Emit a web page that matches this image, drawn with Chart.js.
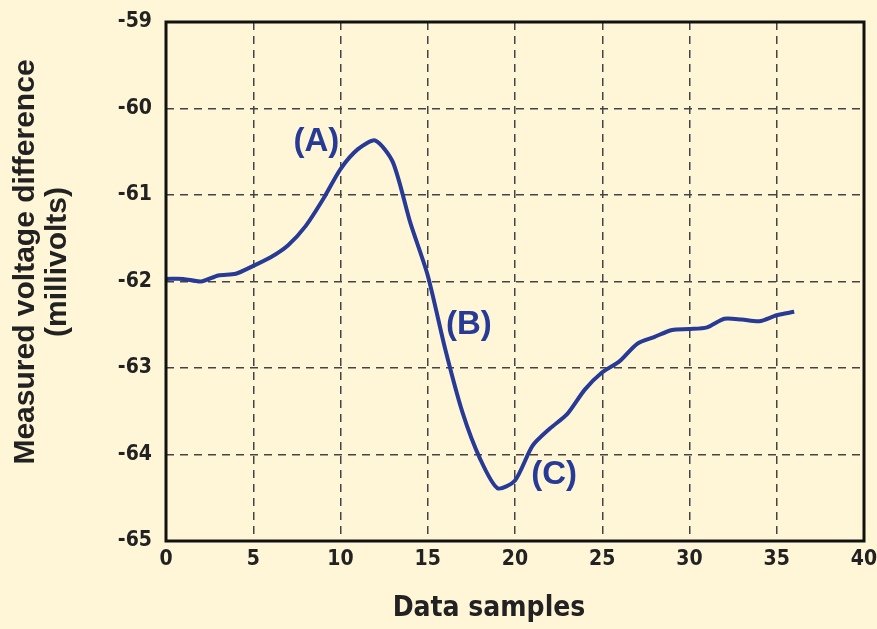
<!DOCTYPE html>
<html>
<head>
    <title>Measured voltage difference</title>
    <script src="https://cdn.jsdelivr.net/npm/chart.js"></script>
    <style>
        body {
            margin: 0;
            background-color: #fff6d8;
        }
        .chart-box {
            width: 877px;
            height: 629px;
        }
    </style>
</head>
<body>
    <div class="chart-box">
        <canvas id="voltChart" width="877" height="629"></canvas>
    </div>

    <script>
    // values
    const samples = [0, 1, 2, 3, 4, 5, 6, 7, 8, 9, 10, 11, 12, 13, 14, 15, 16, 17, 18,
                     19, 20, 21, 22, 23, 24, 25, 26, 27, 28, 29, 30, 31, 32, 33, 34, 35, 36];
    const voltage = [-61.97, -61.97, -62.00, -61.93, -61.91, -61.82, -61.72, -61.58, -61.36,
                     -61.05, -60.70, -60.47, -60.37, -60.62, -61.32, -61.93, -62.78, -63.52,
                     -64.05, -64.39, -64.30, -63.90, -63.70, -63.53, -63.25, -63.05, -62.92,
                     -62.72, -62.64, -62.56, -62.55, -62.53, -62.43, -62.44, -62.46, -62.39, -62.35];
    const noteText = ['(A)', '(B)', '(C)'];
    const noteX = [8.62, 17.36, 22.24];
    const noteY = [-60.39, -62.5, -64.24];

    const ink = '#263a96';
    const fontFam = "'Liberation Sans Narrow', 'DejaVu Sans Condensed', 'Liberation Sans', sans-serif";

    const points = samples.map((s, i) => ({ x: s, y: voltage[i] }));

    // frame round the plot, the (A)(B)(C) notes and both axis titles
    const framePlugin = {
        id: 'frame',
        afterDatasetsDraw(chart) {
            const ctx = chart.ctx;
            const a = chart.chartArea;
            const xs = chart.scales.x, ys = chart.scales.y;
            ctx.save();
            ctx.strokeStyle = '#111';
            ctx.lineWidth = 3;
            ctx.strokeRect(a.left, a.top, a.right - a.left, a.bottom - a.top);
            ctx.fillStyle = ink;
            ctx.font = "bold 33px 'Liberation Sans', sans-serif";
            ctx.textAlign = 'center';
            ctx.textBaseline = 'middle';
            noteText.forEach((t, i) => {
                ctx.fillText(t, xs.getPixelForValue(noteX[i]), ys.getPixelForValue(noteY[i]));
            });
            // titles sit a little off the plot centre in the original
            ctx.fillStyle = '#222';
            ctx.font = 'bold 28px ' + fontFam;
            ctx.fillText('Data samples', 489, 609);
            ctx.translate(0, 262);
            ctx.rotate(-Math.PI / 2);
            ctx.textBaseline = 'alphabetic';
            ctx.font = "bold 30px 'Liberation Sans', sans-serif";
            ctx.fillText('Measured voltage difference', 0, 34);
            ctx.fillText('(millivolts)', 0, 66);
            ctx.restore();
        }
    };

    const gridColor = (c) => (c.index === 0 || c.index === c.scale.ticks.length - 1) ? 'rgba(0,0,0,0)' : '#444';

    new Chart(document.getElementById('voltChart'), {
        type: 'line',
        data: {
            datasets: [{
                data: points,
                borderColor: ink,
                borderWidth: 4,
                pointRadius: 0,
                tension: 0.25,
                fill: false
            }]
        },
        options: {
            responsive: false,
            animation: false,
            layout: { padding: { top: 22, right: 13, left: 0, bottom: 0 } },
            plugins: {
                legend: { display: false },
                tooltip: { enabled: false }
            },
            scales: {
                x: {
                    type: 'linear',
                    min: 0,
                    max: 40,
                    ticks: {
                        stepSize: 5,
                        color: '#222',
                        padding: 6,
                        font: { family: fontFam, size: 21, weight: 'bold' }
                    },
                    grid: { color: gridColor, lineWidth: 1.5, drawTicks: false },
                    border: { display: false, dash: [8, 6] },
                    afterFit(scale) {
                        scale.height = 88;
                        scale.paddingLeft = 0;
                        scale.paddingRight = 0;
                    }
                },
                y: {
                    min: -65,
                    max: -59,
                    ticks: {
                        stepSize: 1,
                        color: '#222',
                        padding: 14,
                        font: { family: fontFam, size: 21, weight: 'bold' }
                    },
                    grid: { color: gridColor, lineWidth: 1.5, drawTicks: false },
                    border: { display: false, dash: [8, 6] },
                    afterFit(scale) {
                        scale.width = 166;
                        scale.paddingTop = 0;
                        scale.paddingBottom = 0;
                    }
                }
            }
        },
        plugins: [framePlugin]
    });
    </script>
</body>
</html>
